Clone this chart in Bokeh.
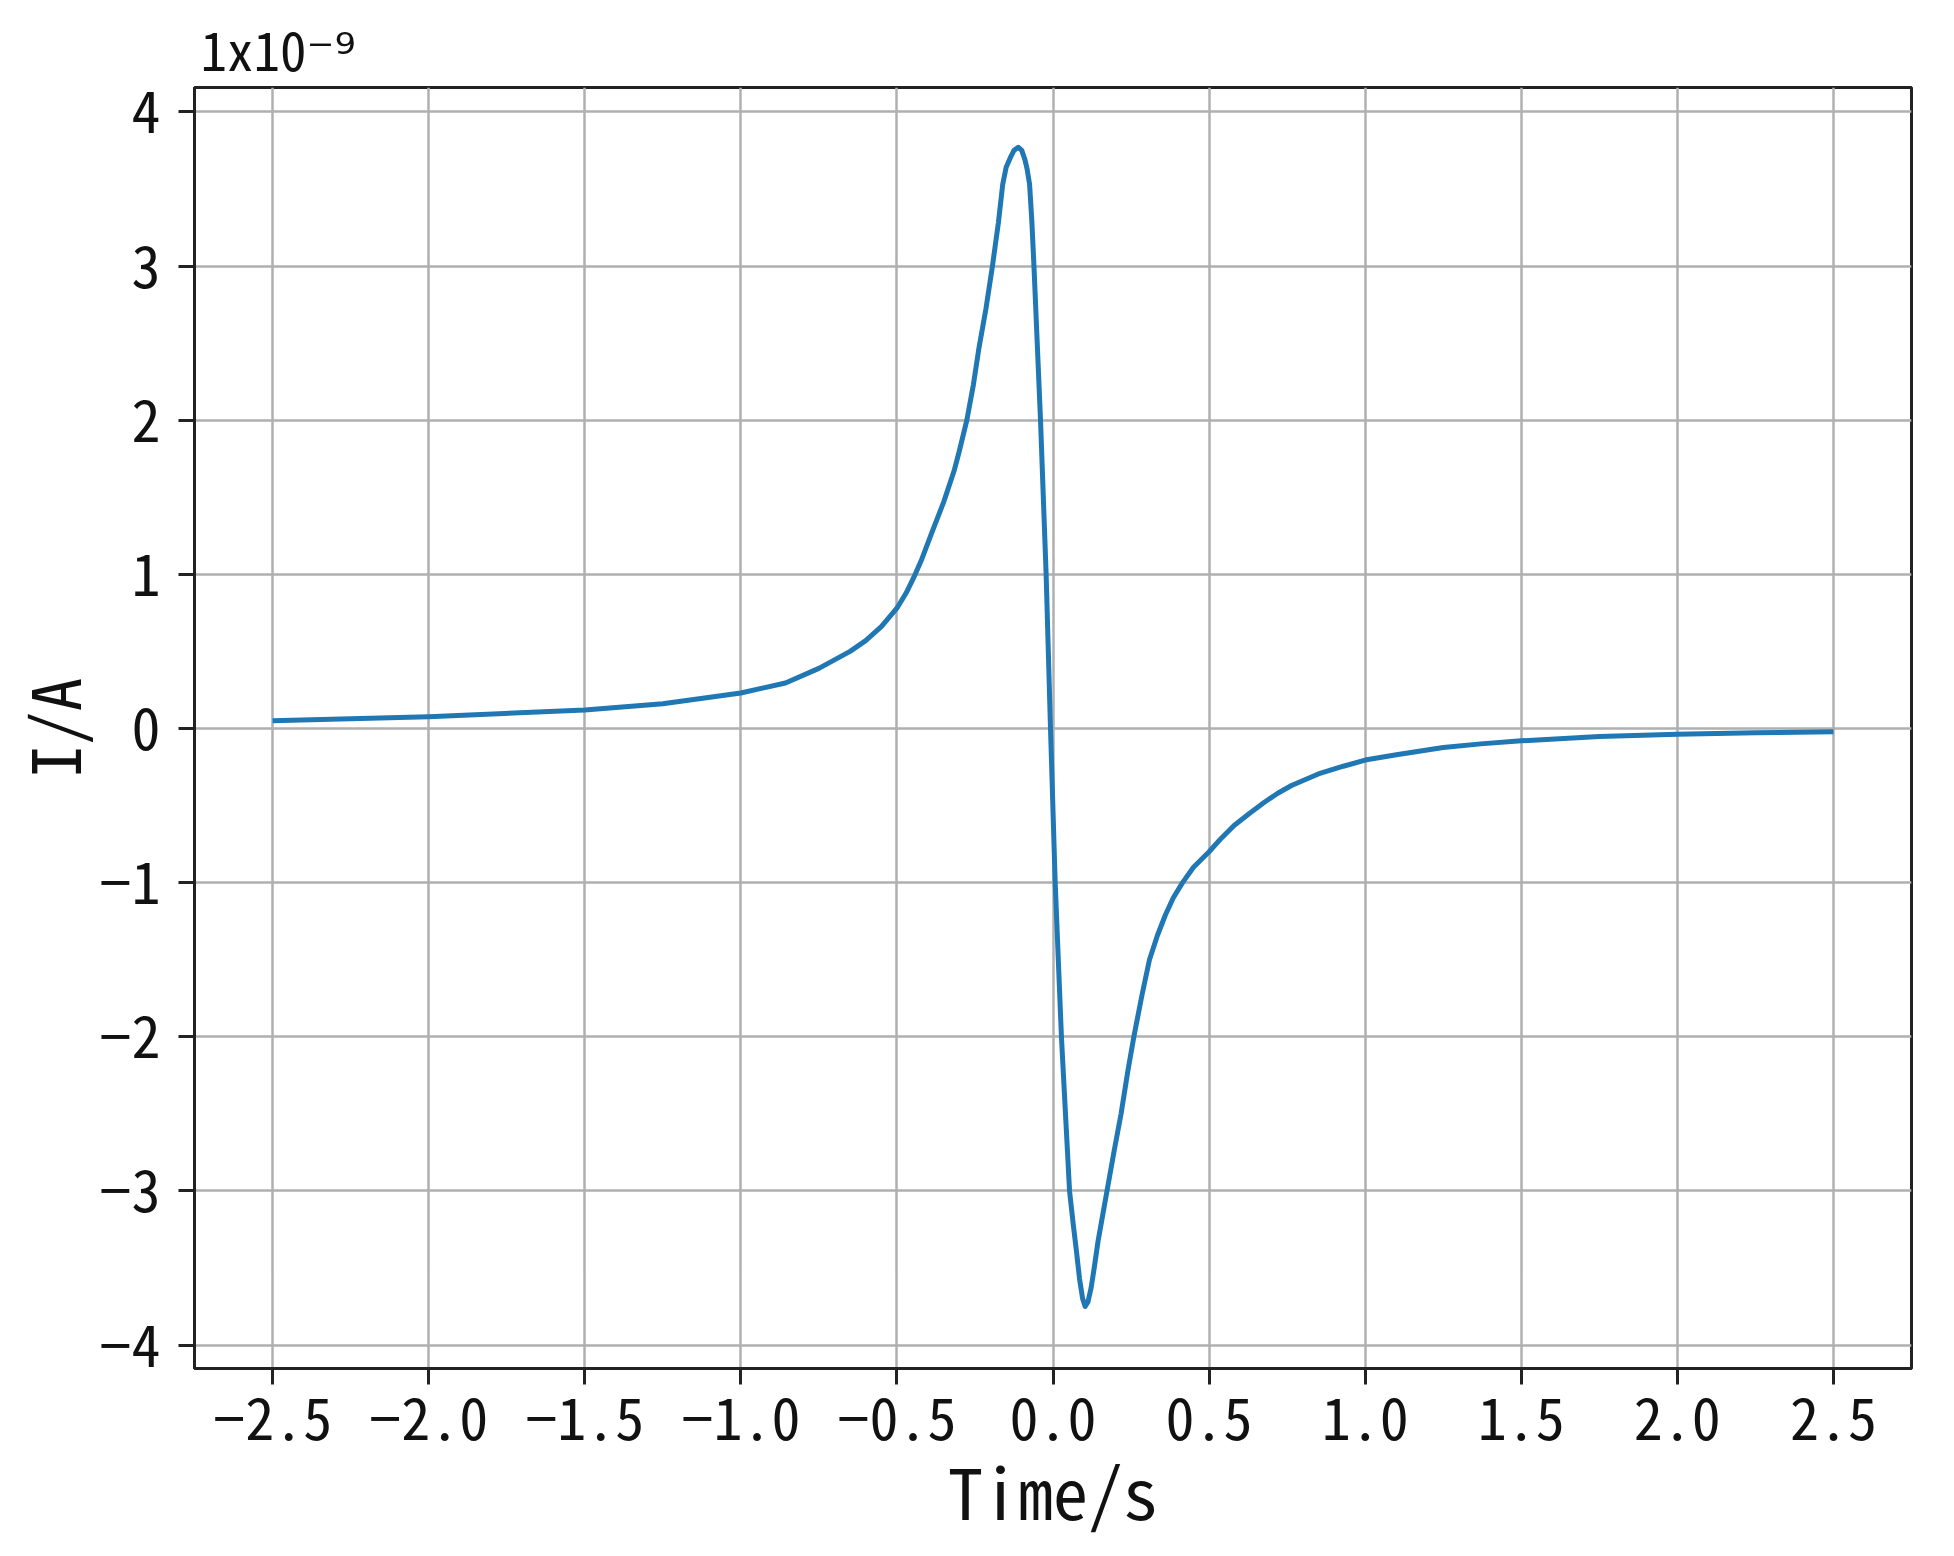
from bokeh.plotting import figure
from bokeh.models import FixedTicker, Title
from bokeh.embed import file_html
from bokeh.resources import INLINE

# ---- data (current in units of 1e-9 A) ----
time_s = [-2.5, -2.0, -1.5, -1.25, -1.0, -0.857, -0.75, -0.65, -0.6, -0.55, -0.5,
          -0.47, -0.446, -0.42, -0.39, -0.35, -0.317, -0.3, -0.276, -0.255, -0.237,
          -0.215, -0.194, -0.175, -0.161, -0.15, -0.135, -0.125, -0.111, -0.1,
          -0.09, -0.083, -0.075, -0.068, -0.061, -0.040, -0.022, -0.008, 0.007,
          0.027, 0.053, 0.065, 0.075, 0.085, 0.095, 0.103, 0.112, 0.122, 0.132,
          0.144, 0.173, 0.195, 0.218, 0.24, 0.259, 0.285, 0.309, 0.335, 0.36,
          0.385, 0.415, 0.45, 0.5, 0.54, 0.58, 0.63, 0.676, 0.72, 0.764, 0.85,
          0.93, 1.0, 1.1, 1.25, 1.37, 1.5, 1.75, 2.0, 2.25, 2.5]
current_nA = [0.05, 0.076, 0.12, 0.16, 0.23, 0.295, 0.39, 0.50, 0.57, 0.66, 0.78,
              0.88, 0.98, 1.1, 1.26, 1.47, 1.67, 1.8, 2.0, 2.23, 2.47,
              2.72, 3.0, 3.28, 3.53, 3.64, 3.71, 3.75, 3.77, 3.75,
              3.69, 3.63, 3.53, 3.3, 3.0, 2.0, 1.0, 0.0, -1.0,
              -2.0, -3.0, -3.22, -3.39, -3.57, -3.70, -3.75, -3.72, -3.63, -3.5,
              -3.33, -3.0, -2.75, -2.5, -2.22, -2.0, -1.73, -1.5, -1.34, -1.21,
              -1.1, -1.0, -0.9, -0.8, -0.71, -0.63, -0.55, -0.48, -0.42, -0.37, -0.295,
              -0.245, -0.205, -0.17, -0.124, -0.1, -0.08, -0.052, -0.037, -0.028, -0.022]

x_ticks = [-2.5, -2.0, -1.5, -1.0, -0.5, 0.0, 0.5, 1.0, 1.5, 2.0, 2.5]
x_tick_labels = ["\u22122.5", "\u22122.0", "\u22121.5", "\u22121.0", "\u22120.5", "0.0",
                 "0.5", "1.0", "1.5", "2.0", "2.5"]
y_ticks = [-4, -3, -2, -1, 0, 1, 2, 3, 4]
y_tick_labels = ["\u22124", "\u22123", "\u22122", "\u22121", "0", "1", "2", "3", "4"]

x_label = "Time/s"
y_label = "I/A"
scale_text = "1x10\u207b\u2079"

FONT = "'Noto Sans Mono CJK SC', 'Noto Sans CJK SC', 'DejaVu Sans', monospace"
TXT = "#111111"

p = figure(frame_width=1717, frame_height=1281,
           x_range=(-2.75, 2.75), y_range=(-4.152, 4.158),
           output_backend="svg", toolbar_location=None,
           min_border_left=193, min_border_top=87,
           min_border_right=36, min_border_bottom=180)

p.background_fill_color = "white"
p.border_fill_color = "white"
p.outline_line_color = "#222222"
p.outline_line_width = 3
p.outline_line_alpha = 1.0

p.line(time_s, current_nA, line_color="#1f77b4", line_width=5, line_join="round")

for ax in (p.xaxis[0], p.yaxis[0]):
    ax.major_label_text_font = FONT
    ax.major_label_text_font_size = "58px"
    ax.major_label_text_color = TXT
    ax.axis_label_text_font = FONT
    ax.axis_label_text_font_size = "70px"
    ax.axis_label_text_font_style = "normal"
    ax.axis_label_text_color = TXT
    ax.axis_line_color = "#222222"
    ax.axis_line_width = 3
    ax.major_tick_line_color = "#222222"
    ax.major_tick_line_width = 3
    ax.major_tick_out = 16
    ax.major_tick_in = 0
    ax.minor_tick_line_color = None

p.xaxis.ticker = FixedTicker(ticks=x_ticks)
p.xaxis.major_label_overrides = dict(zip(x_ticks, x_tick_labels))
p.xaxis.axis_label = x_label
p.xaxis.major_label_standoff = 12
p.xaxis.axis_label_standoff = -4

p.yaxis.ticker = FixedTicker(ticks=y_ticks)
p.yaxis.major_label_overrides = dict(zip(y_ticks, y_tick_labels))
p.yaxis.axis_label = y_label
p.yaxis.axis_label_text_font_size = "67px"
p.yaxis.major_label_standoff = 18
p.yaxis.axis_label_standoff = -4

p.xgrid.ticker = FixedTicker(ticks=x_ticks)
p.ygrid.ticker = FixedTicker(ticks=y_ticks)
for g in (p.xgrid[0], p.ygrid[0]):
    g.grid_line_color = "#b0b0b0"
    g.grid_line_width = 2.5

# scale factor text above the frame
p.title = Title(text=scale_text, align="left", offset=6, standoff=4,
                text_font=FONT, text_font_size="53px", text_font_style="normal",
                text_color=TXT)

open("out.html", "w").write(file_html(p, INLINE))
